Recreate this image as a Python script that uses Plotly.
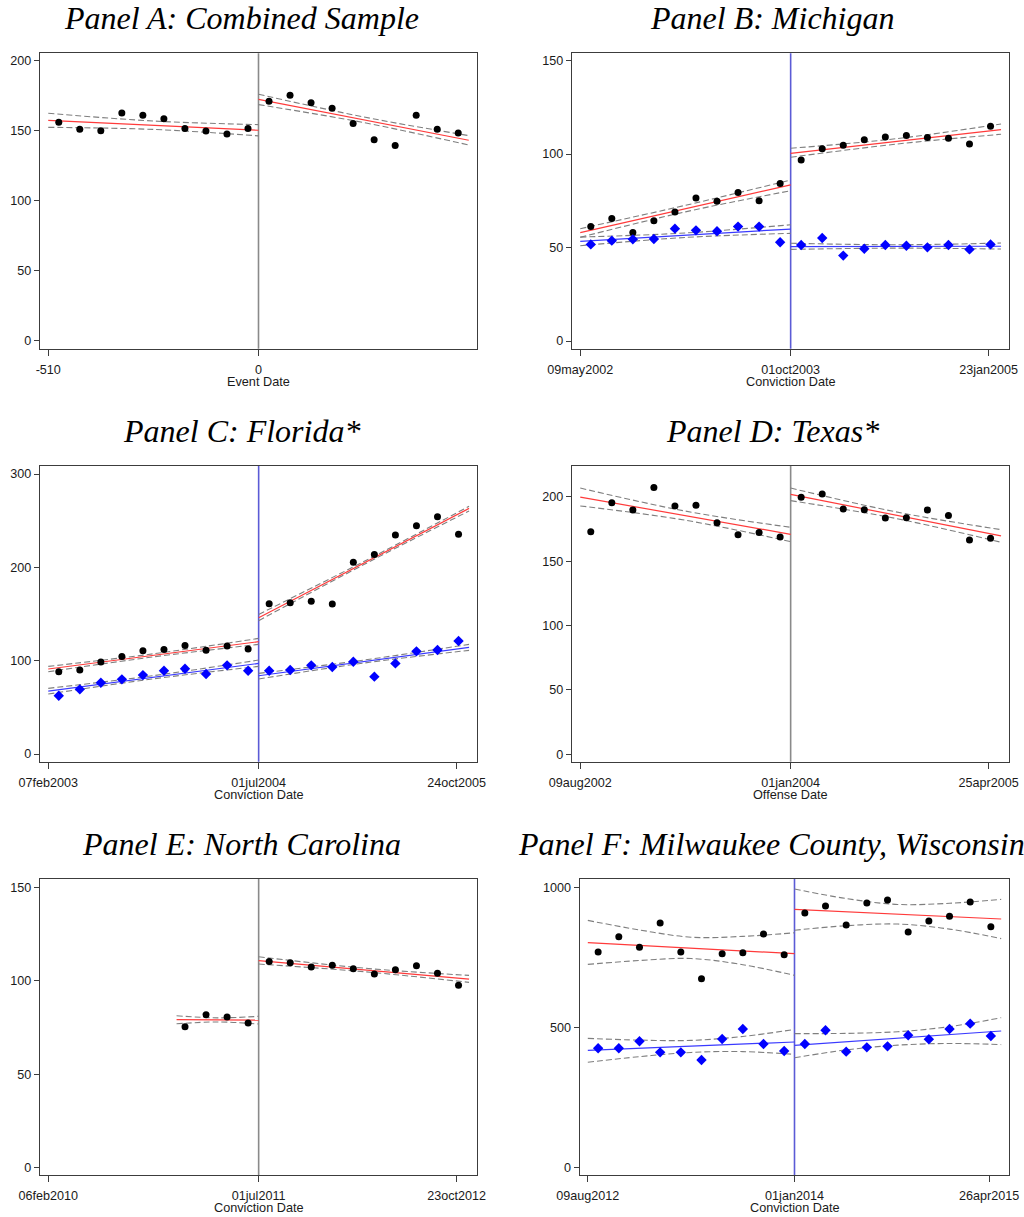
import plotly.graph_objects as go

W, H = 1024, 1217

# ---------------- data ----------------
BINS_LEFT = [-484.5, -433.5, -382.5, -331.5, -280.5, -229.5, -178.5, -127.5, -76.5, -25.5]
BINS_RIGHT = [25.5, 76.5, 127.5, 178.5, 229.5, 280.5, 331.5, 382.5, 433.5, 484.5]
BINS_LEFT_E = [-178.5, -127.5, -76.5, -25.5]
FIT_X_LEFT = [-510, 0]
FIT_X_RIGHT = [0, 510]
FIT_X_LEFT_E = [-199, 0]
CI_X_LEFT = [-510, -255, 0]
CI_X_RIGHT = [0, 255, 510]
CI_X_LEFT_E = [-199, -99.5, 0]
CI_X5_LEFT = [-510, -382.5, -255, -127.5, 0]
CI_X5_RIGHT = [0, 127.5, 255, 382.5, 510]

# Panel A: Combined Sample
A_black_left = [156.0, 151.0, 150.0, 162.6, 161.0, 158.6, 151.5, 149.8, 147.7, 151.5]
A_black_right = [171.0, 175.3, 170.0, 166.0, 155.1, 143.6, 139.4, 161.0, 151.0, 148.4]
A_fit_left = [157.4, 150.3]
A_hi_left = [162.4, 156.9, 154.3]
A_lo_left = [152.4, 150.9, 146.3]
A_fit_right = [172.4, 143.2]
A_hi_right = [176.0, 159.8, 146.5]
A_lo_right = [168.6, 155.8, 139.8]

# Panel B: Michigan
B_black_left = [61.2, 65.5, 58.1, 64.4, 69.0, 76.5, 74.7, 79.4, 75.1, 84.2]
B_black_right = [96.8, 102.9, 104.7, 107.7, 109.1, 110.0, 108.8, 108.4, 105.4, 114.9]
B_blue_left = [51.7, 53.7, 54.4, 54.6, 60.1, 59.2, 58.7, 61.2, 61.2, 52.8]
B_blue_right = [51.4, 55.1, 45.7, 49.4, 51.4, 51.0, 50.1, 51.4, 49.0, 51.7]
B_fit_black_left = [58.0, 83.5]
B_hi_black_left = [60.1, 72.6, 86.1]
B_lo_black_left = [55.5, 69.1, 80.4]
B_fit_blue_left = [53.3, 59.9]
B_hi_blue_left = [55.6, 57.8, 62.2]
B_lo_blue_left = [51.0, 55.4, 57.6]
B_fit_black_right = [100.4, 113.1]
B_hi_black_right = [103.1, 108.2, 116.1]
B_lo_black_right = [98.3, 105.3, 110.6]
B_fit_blue_right = [50.5, 50.7]
B_hi_blue_right = [52.3, 51.5, 52.4]
B_lo_blue_right = [49.0, 49.7, 49.2]

# Panel C: Florida*
C_black_left = [88.2, 90.0, 98.6, 104.6, 110.7, 112.1, 116.4, 111.1, 115.7, 112.5]
C_black_right = [161.1, 162.1, 163.6, 160.7, 205.4, 213.9, 234.6, 244.6, 254.3, 235.4]
C_blue_left = [62.5, 69.3, 76.4, 80.0, 84.6, 89.3, 91.4, 85.7, 95.0, 89.3]
C_blue_right = [89.3, 90.0, 95.0, 93.2, 98.9, 82.9, 97.1, 110.0, 111.4, 121.1]
C_fit_black_left = [91.1, 120.4]
C_hi_black_left = [93.9, 107.4, 123.9]
C_lo_black_left = [88.2, 104.1, 117.5]
C_fit_blue_left = [67.5, 97.1]
C_hi_blue_left = [70.4, 84.0, 100.7]
C_lo_blue_left = [64.3, 80.6, 93.9]
C_fit_black_right = [146.1, 263.2]
C_hi_black_right = [149.6, 206.3, 265.4]
C_lo_black_right = [142.9, 203.0, 260.4]
C_fit_blue_right = [83.9, 114.3]
C_hi_blue_right = [86.4, 100.7, 117.5]
C_lo_blue_right = [80.4, 97.5, 111.1]

# Panel D: Texas*
D_black_left = [172.8, 195.3, 189.6, 207.2, 192.8, 193.3, 179.8, 170.5, 172.1, 168.7]
D_black_right = [199.5, 202.1, 190.4, 189.9, 183.4, 183.7, 189.6, 185.3, 166.4, 167.7]
D_fit_left = [199.7, 170.8]
D_hi_left = [206.7, 188.8, 176.2]
D_lo_left = [192.8, 181.7, 165.1]
D_fit_right = [201.8, 169.5]
D_hi_right = [206.7, 188.2, 174.4]
D_lo_right = [196.9, 183.1, 164.6]

# Panel E: North Carolina
E_black_left = [75.4, 81.9, 80.6, 77.4]
E_black_right = [110.4, 109.7, 107.4, 108.3, 106.5, 103.6, 105.9, 108.1, 104.0, 97.6]
E_fit_left = [79.2, 79.0]
E_hi_left = [81.3, 80.2, 81.0]
E_lo_left = [77.0, 78.0, 76.9]
E_fit_right = [110.8, 100.9]
E_hi_right = [112.9, 106.8, 102.9]
E_lo_right = [109.0, 104.9, 99.2]

# Panel F: Milwaukee County, Wisconsin
F_black_left = [769.3, 824.0, 786.0, 872.8, 769.3, 674.2, 763.4, 767.0, 833.5, 759.8]
F_black_right = [908.4, 933.4, 865.6, 944.1, 954.8, 840.7, 879.9, 896.6, 947.7, 859.7]
F_blue_left = [425.7, 425.7, 450.7, 411.4, 411.4, 384.1, 459.0, 494.6, 441.1, 416.2]
F_blue_right = [441.1, 489.9, 413.8, 429.2, 432.8, 472.1, 457.8, 494.6, 513.7, 469.7]
F_fit_black_left = [802.6, 763.4]
F_hi_black_left = [882, 848, 822, 825, 838]
F_lo_black_left = [725, 739, 746, 724, 686]
F_fit_black_right = [921.5, 887.0]
F_hi_black_right = [994, 960, 939, 943, 957]
F_lo_black_right = [847, 863, 869, 851, 817]
F_fit_blue_left = [418.5, 448.3]
F_hi_blue_left = [461, 455, 454, 468, 493]
F_lo_blue_left = [376, 396, 411, 414, 404]
F_fit_blue_right = [436.4, 487.5]
F_hi_blue_right = [478, 479, 485, 503, 535]
F_lo_blue_right = [392, 420, 437, 443, 439]

TITLES = ["Panel A: Combined Sample", "Panel B: Michigan", "Panel C: Florida*",
          "Panel D: Texas*", "Panel E: North Carolina", "Panel F: Milwaukee County, Wisconsin"]
XTITLES = ["Event Date", "Conviction Date", "Conviction Date",
           "Offense Date", "Conviction Date", "Conviction Date"]
XTICKVALS = [[-510, 0], [-510, 0, 480], [-510, 0, 480], [-510, 0, 480], [-510, 0, 480], [-510, 0, 480]]
XTICKTEXT = [["-510", "0"], ["09may2002", "01oct2003", "23jan2005"],
             ["07feb2003", "01jul2004", "24oct2005"], ["09aug2002", "01jan2004", "25apr2005"],
             ["06feb2010", "01jul2011", "23oct2012"], ["09aug2012", "01jan2014", "26apr2015"]]
YTICKS = [[0, 50, 100, 150, 200], [0, 50, 100, 150], [0, 100, 200, 300],
          [0, 50, 100, 150, 200], [0, 50, 100, 150], [0, 500, 1000]]
YRANGES = [[-5.5, 205.2], [-4.1, 153.9], [-8.2, 308.6], [-5.7, 223.8], [-3.9, 154.5], [-26.2, 1029.7]]
XRANGE = [-530, 530]

# ---------------- layout geometry (page pixels) ----------------
BOXES = [(40, 477, 53.3, 348.7), (572, 1009.3, 53.3, 348.7),
         (40, 477.3, 466, 761.7), (572, 1009.3, 466, 761.7),
         (40, 477.3, 879, 1175), (579.7, 1009.3, 879, 1175)]
TITLE_POS = [(241, 18), (772, 18), (241, 431), (772, 431), (241, 844), (771, 844)]
CUT_COLORS = ["#8a8a8a", "#5b5bd6", "#5b5bd6", "#8a8a8a", "#8a8a8a", "#5b5bd6"]

RED = "#ff3b3b"
BLUE_LINE = "#3a3aff"
DOT_BLUE = "#0000ff"
CI_COL = "#7f7f7f"
FRAME = "#3c3c3c"


def px(xp):
    return xp / W


def py(yp):
    return 1 - yp / H


fig = go.Figure()


def ax(i):
    return ("x" if i == 0 else f"x{i+1}"), ("y" if i == 0 else f"y{i+1}")


def dots(i, xs, ys, kind):
    xa, ya = ax(i)
    if kind == "black":
        m = dict(symbol="circle", size=7, color="black")
    else:
        m = dict(symbol="diamond", size=8, color=DOT_BLUE)
    fig.add_trace(go.Scatter(x=xs, y=ys, mode="markers", marker=m, xaxis=xa, yaxis=ya,
                             showlegend=False, hoverinfo="skip"))


def fit(i, xs, ys, color):
    xa, ya = ax(i)
    fig.add_trace(go.Scatter(x=xs, y=ys, mode="lines", line=dict(color=color, width=1.2),
                             xaxis=xa, yaxis=ya, showlegend=False, hoverinfo="skip"))


def ci(i, xs, ys):
    xa, ya = ax(i)
    fig.add_trace(go.Scatter(x=xs, y=ys, mode="lines",
                             line=dict(color=CI_COL, width=1.1, dash="6px,3px", shape="spline", smoothing=1.0),
                             xaxis=xa, yaxis=ya, showlegend=False, hoverinfo="skip"))


def band(i, cx, fx, f, hi, lo, color):
    ci(i, cx, hi)
    ci(i, cx, lo)
    fit(i, fx, f, color)


# Panel A
band(0, CI_X_LEFT, FIT_X_LEFT, A_fit_left, A_hi_left, A_lo_left, RED)
band(0, CI_X_RIGHT, FIT_X_RIGHT, A_fit_right, A_hi_right, A_lo_right, RED)
dots(0, BINS_LEFT, A_black_left, "black")
dots(0, BINS_RIGHT, A_black_right, "black")

# Panel B
band(1, CI_X_LEFT, FIT_X_LEFT, B_fit_black_left, B_hi_black_left, B_lo_black_left, RED)
band(1, CI_X_RIGHT, FIT_X_RIGHT, B_fit_black_right, B_hi_black_right, B_lo_black_right, RED)
band(1, CI_X_LEFT, FIT_X_LEFT, B_fit_blue_left, B_hi_blue_left, B_lo_blue_left, BLUE_LINE)
band(1, CI_X_RIGHT, FIT_X_RIGHT, B_fit_blue_right, B_hi_blue_right, B_lo_blue_right, BLUE_LINE)
dots(1, BINS_LEFT, B_black_left, "black")
dots(1, BINS_RIGHT, B_black_right, "black")
dots(1, BINS_LEFT, B_blue_left, "blue")
dots(1, BINS_RIGHT, B_blue_right, "blue")

# Panel C
band(2, CI_X_LEFT, FIT_X_LEFT, C_fit_black_left, C_hi_black_left, C_lo_black_left, RED)
band(2, CI_X_RIGHT, FIT_X_RIGHT, C_fit_black_right, C_hi_black_right, C_lo_black_right, RED)
band(2, CI_X_LEFT, FIT_X_LEFT, C_fit_blue_left, C_hi_blue_left, C_lo_blue_left, BLUE_LINE)
band(2, CI_X_RIGHT, FIT_X_RIGHT, C_fit_blue_right, C_hi_blue_right, C_lo_blue_right, BLUE_LINE)
dots(2, BINS_LEFT, C_black_left, "black")
dots(2, BINS_RIGHT, C_black_right, "black")
dots(2, BINS_LEFT, C_blue_left, "blue")
dots(2, BINS_RIGHT, C_blue_right, "blue")

# Panel D
band(3, CI_X_LEFT, FIT_X_LEFT, D_fit_left, D_hi_left, D_lo_left, RED)
band(3, CI_X_RIGHT, FIT_X_RIGHT, D_fit_right, D_hi_right, D_lo_right, RED)
dots(3, BINS_LEFT, D_black_left, "black")
dots(3, BINS_RIGHT, D_black_right, "black")

# Panel E
band(4, CI_X_LEFT_E, FIT_X_LEFT_E, E_fit_left, E_hi_left, E_lo_left, RED)
band(4, CI_X_RIGHT, FIT_X_RIGHT, E_fit_right, E_hi_right, E_lo_right, RED)
dots(4, BINS_LEFT_E, E_black_left, "black")
dots(4, BINS_RIGHT, E_black_right, "black")

# Panel F
band(5, CI_X5_LEFT, FIT_X_LEFT, F_fit_black_left, F_hi_black_left, F_lo_black_left, RED)
band(5, CI_X5_RIGHT, FIT_X_RIGHT, F_fit_black_right, F_hi_black_right, F_lo_black_right, RED)
band(5, CI_X5_LEFT, FIT_X_LEFT, F_fit_blue_left, F_hi_blue_left, F_lo_blue_left, BLUE_LINE)
band(5, CI_X5_RIGHT, FIT_X_RIGHT, F_fit_blue_right, F_hi_blue_right, F_lo_blue_right, BLUE_LINE)
dots(5, BINS_LEFT, F_black_left, "black")
dots(5, BINS_RIGHT, F_black_right, "black")
dots(5, BINS_LEFT, F_blue_left, "blue")
dots(5, BINS_RIGHT, F_blue_right, "blue")

TICKFONT = dict(family="Liberation Sans, Arial, sans-serif", size=12.6, color="#1a1a1a")
layout = dict(width=W, height=H, margin=dict(l=0, r=0, t=0, b=0, pad=0, autoexpand=False),
              paper_bgcolor="white", plot_bgcolor="white", showlegend=False)
annotations = []
shapes = []
for i in range(6):
    x0, x1, y0, y1 = BOXES[i]
    xk = "xaxis" if i == 0 else f"xaxis{i+1}"
    yk = "yaxis" if i == 0 else f"yaxis{i+1}"
    xa, ya = ax(i)
    layout[xk] = dict(domain=[px(x0), px(x1)], range=XRANGE, anchor=ya, automargin=False,
                      tickvals=XTICKVALS[i], ticktext=XTICKTEXT[i], ticks="outside",
                      ticklen=6, tickcolor=FRAME, tickwidth=1, tickfont=TICKFONT,
                      ticklabelstandoff=3,
                      showline=True, linecolor=FRAME, linewidth=1.3, mirror=True,
                      showgrid=False, zeroline=False, fixedrange=True)
    layout[yk] = dict(domain=[py(y1), py(y0)], range=YRANGES[i], anchor=xa, automargin=False,
                      tickvals=YTICKS[i], ticks="outside", ticklen=5, tickcolor=FRAME,
                      tickwidth=1, tickfont=TICKFONT,
                      showline=True, linecolor=FRAME, linewidth=1.3, mirror=True,
                      showgrid=False, zeroline=False, fixedrange=True)
    # cutoff line at x = 0
    shapes.append(dict(type="line", xref=xa, yref=f"{ya} domain", x0=0, x1=0, y0=0, y1=1,
                       line=dict(color=CUT_COLORS[i], width=1.6), layer="below"))
    # x-axis title
    annotations.append(dict(text=XTITLES[i], xref=xa, yref="paper", x=0, y=py(y1 + 33),
                            xanchor="center", yanchor="middle", showarrow=False,
                            font=dict(family="Liberation Sans, Arial, sans-serif", size=12.7, color="#1a1a1a")))
    # panel title
    tx, ty = TITLE_POS[i]
    annotations.append(dict(text=TITLES[i], xref="paper", yref="paper", x=px(tx), y=py(ty),
                            xanchor="center", yanchor="middle", showarrow=False,
                            font=dict(family="Liberation Serif, Times New Roman, serif", size=32,
                                      color="black", style="italic")))

layout["annotations"] = annotations
layout["shapes"] = shapes
fig.update_layout(**layout)
fig.write_html("out.html", config={"displayModeBar": False},
               post_script="document.body.style.margin='0';document.body.style.overflow='hidden';"
                           "document.documentElement.style.overflow='hidden';")
